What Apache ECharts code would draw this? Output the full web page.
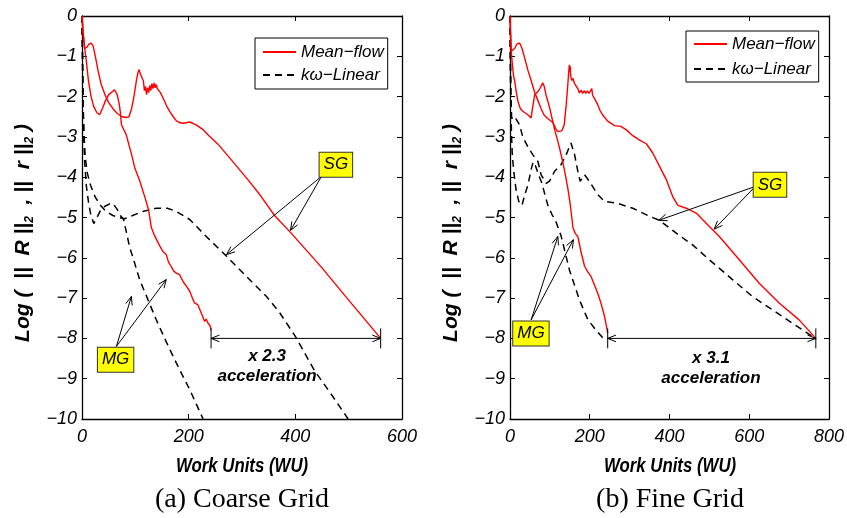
<!DOCTYPE html>
<html>
<head>
<meta charset="utf-8">
<script src="https://cdn.jsdelivr.net/npm/echarts@6/dist/echarts.min.js"></script>
<style>
  html, body { margin: 0; padding: 0; background: #fff; }
  #chart { width: 847px; height: 518px; }
</style>
</head>
<body>
<div id="chart"></div>
<script>
// ---- Coarse grid: residual histories, [work units, log10 residual] ----
const coarseMgMeanFlow = [[0,0],[2,-0.4],[5,-0.8],[8,-1.1],[12,-1.6],[17,-2.0],[22,-2.25],[28,-2.4],[33,-2.45],[38,-2.3],[44,-2.1],[50,-1.95],[55,-1.9],[61,-1.83],[66,-1.95],[70,-2.2],[72,-2.4],[74,-2.7],[83,-2.95],[93,-3.44],[99,-3.77],[108,-4.08],[118,-4.5],[125,-4.82],[130,-5.25],[136,-5.45],[146,-5.71],[152,-5.85],[158,-5.92],[162,-6.1],[167,-6.21],[172,-6.33],[177,-6.38],[183,-6.42],[190,-6.6],[196,-6.71],[202,-6.83],[207,-7.0],[211,-7.12],[217,-7.16],[223,-7.35],[230,-7.58],[233,-7.52],[236,-7.62],[240,-7.68],[242,-7.8]];
const coarseSgMeanFlow = [[0,0],[2,-0.4],[5,-0.8],[9,-0.78],[13,-0.7],[17,-0.67],[21,-0.75],[25,-1.0],[30,-1.35],[36,-1.7],[43,-1.95],[50,-2.15],[58,-2.3],[66,-2.42],[75,-2.5],[83,-2.52],[88,-2.5],[93,-2.3],[98,-1.95],[102,-1.6],[105,-1.4],[107,-1.33],[109,-1.42],[111,-1.46],[113,-1.55],[115,-1.6],[117,-1.85],[119,-1.75],[121,-1.95],[123,-1.78],[125,-1.9],[127,-1.72],[129,-1.85],[131,-1.68],[133,-1.8],[135,-1.66],[137,-1.78],[139,-1.7],[141,-1.8],[144,-1.78],[147,-1.9],[150,-1.98],[155,-2.12],[160,-2.27],[165,-2.38],[171,-2.5],[177,-2.6],[184,-2.65],[190,-2.66],[202,-2.63],[214,-2.7],[227,-2.82],[238,-2.97],[255,-3.18],[280,-3.57],[311,-4.06],[336,-4.48],[361,-4.95],[393,-5.4],[450,-6.25],[500,-7.05],[560,-8.0]];
const coarseMgLinear = [[0,0],[1,-1],[2,-2],[3,-2.9],[5,-3.6],[8,-4.2],[12,-4.6],[16,-4.9],[22,-5.15],[28,-5.0],[35,-4.82],[43,-4.72],[52,-4.66],[58,-4.65],[66,-4.8],[72,-4.95],[78,-5.05],[83,-5.35],[89,-5.72],[98,-6.1],[108,-6.54],[124,-7.05],[139,-7.53],[155,-8.0],[171,-8.45],[187,-8.88],[202,-9.27],[215,-9.65],[227,-10.0]];
const coarseSgLinear = [[0,0],[1,-1.2],[2,-2.2],[4,-3.0],[6,-3.5],[10,-3.9],[16,-4.2],[25,-4.5],[35,-4.7],[45,-4.85],[58,-4.95],[70,-5.0],[80,-5.03],[95,-4.95],[114,-4.85],[139,-4.77],[160,-4.77],[177,-4.85],[202,-5.05],[233,-5.47],[271,-5.96],[308,-6.46],[346,-6.96],[371,-7.37],[400,-7.95],[436,-8.8],[468,-9.4],[496,-9.94],[499,-10.0]];

// ---- Fine grid ----
const fineMgMeanFlow = [[0,0],[1.5,-0.5],[3,-0.88],[6,-1.2],[9,-1.5],[12,-1.62],[16,-1.9],[20,-2.12],[26,-2.3],[33,-2.37],[40,-2.42],[47,-2.47],[53,-2.53],[57,-2.25],[62,-1.95],[68,-1.9],[75,-1.8],[82,-1.66],[86,-1.75],[90,-1.95],[95,-2.12],[100,-2.3],[107,-2.61],[114,-2.9],[120,-3.11],[126,-3.35],[132,-3.61],[138,-3.9],[145,-4.27],[150,-4.6],[155,-5.0],[158,-5.26],[164,-5.4],[170,-5.47],[178,-5.85],[187,-6.21],[195,-6.35],[203,-6.46],[212,-6.68],[220,-6.88],[228,-7.12],[237,-7.45],[242,-7.7],[245,-7.87]];
const fineSgMeanFlow = [[0,0],[1.5,-0.5],[3,-0.88],[7.5,-0.92],[12,-0.8],[17,-0.7],[24,-0.67],[30,-0.8],[37,-1.05],[45,-1.35],[53,-1.6],[62,-1.9],[70,-2.1],[78,-2.3],[85,-2.45],[95,-2.55],[102,-2.6],[108,-2.65],[115,-2.8],[120,-2.87],[124,-2.9],[130,-2.85],[136,-2.7],[141,-2.2],[145,-1.7],[148,-1.3],[149,-1.21],[150,-1.38],[151,-1.25],[152,-1.48],[155,-1.6],[158,-1.55],[162,-1.68],[165,-1.64],[170,-1.8],[174,-1.91],[178,-1.84],[182,-1.92],[186,-1.85],[190,-1.92],[194,-1.86],[198,-1.92],[203,-1.9],[205,-1.8],[207,-1.96],[212,-2.05],[220,-2.2],[226,-2.35],[232,-2.45],[245,-2.61],[262,-2.72],[278,-2.74],[291,-2.82],[308,-2.97],[325,-3.08],[342,-3.17],[358,-3.4],[375,-3.73],[392,-4.06],[408,-4.48],[421,-4.7],[442,-4.77],[467,-4.89],[492,-5.14],[525,-5.47],[575,-6.05],[625,-6.63],[675,-7.12],[725,-7.54],[767,-8.0]];
const fineMgLinear = [[0,0],[1,-1.2],[2,-2.2],[4,-3.0],[6,-3.5],[10,-3.9],[15,-4.3],[22,-4.6],[30,-4.7],[38,-4.4],[45,-4.2],[52,-3.85],[58,-3.62],[64,-3.72],[72,-3.95],[80,-4.15],[88,-4.45],[95,-4.7],[105,-4.92],[115,-5.1],[128,-5.45],[149,-6.3],[174,-7.04],[195,-7.53],[216,-7.8],[232,-7.98],[238,-8.02]];
const fineSgLinear = [[0,0],[1,-1.0],[2,-1.9],[4,-2.5],[8,-2.6],[15,-2.55],[24,-2.7],[32,-3.0],[45,-3.25],[57,-3.44],[70,-3.61],[78,-3.94],[91,-4.15],[99,-4.1],[112,-3.85],[128,-3.69],[141,-3.44],[153,-3.15],[162,-3.44],[170,-3.85],[176,-4.1],[187,-3.94],[199,-4.1],[220,-4.43],[237,-4.6],[270,-4.65],[308,-4.77],[350,-4.97],[375,-5.07],[417,-5.39],[458,-5.68],[500,-6.05],[558,-6.54],[608,-6.96],[658,-7.29],[708,-7.62],[758,-7.95],[768,-8.02]];

// ---- Axis ticks ----
const coarseXTicks = [0, 200, 400, 600];
const fineXTicks = [0, 200, 400, 600, 800];
const yTicks = [0, -1, -2, -3, -4, -5, -6, -7, -8, -9, -10];

// ---- Text ----
const legendNames = ['Mean\u2212flow', 'k\u03c9\u2212Linear'];
const xTitle = 'Work Units (WU)';
const captions = ['(a) Coarse Grid', '(b) Fine Grid'];

// ---- Annotations (data coordinates) ----
// tag boxes: [x, y, text]
const coarseTags = [[476, -3.69, 'SG'], [63, -8.53, 'MG']];
const fineTags = [[652, -4.19, 'SG'], [52.5, -7.88, 'MG']];
// pointer arrows: [fromX, fromY, toX, toY]
const coarseArrows = [[449, -3.98, 271, -5.92], [449, -3.98, 391, -5.32], [64.5, -8.2, 92.6, -6.96], [64.5, -8.2, 158, -6.54]];
const fineArrows = [[615, -4.23, 373, -5.07], [615, -4.23, 512, -5.29], [53, -7.54, 120, -5.47], [53, -7.54, 159, -5.55]];
// speed-up spans: [MG end, SG end, level, label x, label y]
const coarseSpan = [242, 560, -8.0, 347, -8.45];
const fineSpan = [245, 767, -8.0, 504, -8.49];

const SANS = "'Liberation Sans', Arial, sans-serif";
const SERIF = "'Liberation Serif', 'Times New Roman', serif";
const minus = v => String(v).replace('-', '\u2212');

function xAxes(gridIndex, ticks) {
  const base = {
    gridIndex, type: 'value', min: ticks[0], max: ticks[ticks.length - 1],
    interval: ticks[1] - ticks[0],
    axisLine: { onZero: false, lineStyle: { color: '#000', width: 1.3 } },
    axisTick: { inside: true, length: 5, lineStyle: { color: '#000', width: 1 } },
    splitLine: { show: false }
  };
  return [
    Object.assign({}, base, {
      position: 'bottom',
      axisLabel: { margin: 9, color: '#000', fontFamily: SANS, fontStyle: 'italic', fontSize: 18, formatter: minus }
    }),
    Object.assign({}, base, { position: 'top', axisLabel: { show: false } })
  ];
}
function yAxes(gridIndex) {
  const base = {
    gridIndex, type: 'value', min: yTicks[yTicks.length - 1], max: yTicks[0], interval: 1,
    axisLine: { onZero: false, lineStyle: { color: '#000', width: 1.3 } },
    axisTick: { inside: true, length: 5, lineStyle: { color: '#000', width: 1 } },
    splitLine: { show: false }
  };
  return [
    Object.assign({}, base, {
      position: 'left',
      axisLabel: { margin: 5, color: '#000', fontFamily: SANS, fontStyle: 'italic', fontSize: 18, formatter: minus }
    }),
    Object.assign({}, base, { position: 'right', axisLabel: { show: false } })
  ];
}

function lineSeries(name, data, axis, dashed) {
  const color = dashed ? '#000' : '#ff0000';
  return {
    type: 'line', name, data, xAxisIndex: axis, yAxisIndex: axis,
    symbol: 'none', showSymbol: false, animation: false, z: 3,
    itemStyle: { color },
    lineStyle: dashed ? { color, width: 1.5, type: [7, 5] } : { color, width: 1.4 }
  };
}

function openHead(tip, from, len) {
  const dx = tip[0] - from[0], dy = tip[1] - from[1];
  const d = Math.hypot(dx, dy) || 1;
  const ux = dx / d, uy = dy / d, a = 0.38;
  const c = Math.cos(a), s = Math.sin(a);
  const p1 = [tip[0] - len * (ux * c - uy * s), tip[1] - len * (uy * c + ux * s)];
  const p2 = [tip[0] - len * (ux * c + uy * s), tip[1] - len * (uy * c - ux * s)];
  return { type: 'polyline', shape: { points: [p1, tip, p2] }, style: { stroke: '#000', lineWidth: 1, fill: null } };
}

function arrowSeries(data, axis) {
  return {
    type: 'custom', xAxisIndex: axis, yAxisIndex: axis, data, animation: false, z: 5, silent: true,
    renderItem(params, api) {
      const a = api.coord([api.value(0), api.value(1)]);
      const b = api.coord([api.value(2), api.value(3)]);
      return { type: 'group', children: [
        { type: 'line', shape: { x1: a[0], y1: a[1], x2: b[0], y2: b[1] }, style: { stroke: '#000', lineWidth: 1 } },
        openHead(b, a, 9)
      ] };
    }
  };
}

function tagSeries(data, axis) {
  return {
    type: 'custom', xAxisIndex: axis, yAxisIndex: axis, data, animation: false, z: 6, silent: true,
    renderItem(params, api) {
      const p = api.coord([api.value(0), api.value(1)]);
      return { type: 'text', x: p[0], y: p[1], style: {
        text: data[params.dataIndex][2], fill: '#000', font: 'italic 17px ' + SANS,
        align: 'center', verticalAlign: 'middle', backgroundColor: '#ffff00',
        borderColor: '#333', borderWidth: 1, padding: [3, 4, 3, 4], lineHeight: 18
      } };
    }
  };
}

function spanSeries(span, axis) {
  return {
    type: 'custom', xAxisIndex: axis, yAxisIndex: axis, data: [span], animation: false, z: 5, silent: true,
    renderItem(params, api) {
      const a = api.coord([api.value(0), api.value(2)]);
      const b = api.coord([api.value(1), api.value(2)]);
      const t = api.coord([api.value(3), api.value(4)]);
      const factor = (span[1] / span[0]).toFixed(1);
      const font = 'italic bold 17px ' + SANS;
      return { type: 'group', children: [
        { type: 'line', shape: { x1: a[0], y1: a[1], x2: b[0], y2: b[1] }, style: { stroke: '#000', lineWidth: 1 } },
        { type: 'line', shape: { x1: a[0], y1: a[1] - 10, x2: a[0], y2: a[1] + 10 }, style: { stroke: '#000', lineWidth: 1 } },
        { type: 'line', shape: { x1: b[0], y1: b[1] - 10, x2: b[0], y2: b[1] + 10 }, style: { stroke: '#000', lineWidth: 1 } },
        openHead(a, b, 9), openHead(b, a, 9),
        { type: 'text', x: t[0], y: t[1], style: { text: 'x ' + factor, font, fill: '#000', align: 'center', verticalAlign: 'middle' } },
        { type: 'text', x: t[0], y: t[1] + 20, style: { text: 'acceleration', font, fill: '#000', align: 'center', verticalAlign: 'middle' } }
      ] };
    }
  };
}

function legendFor(left, top, pad, gap) {
  return {
    data: legendNames, orient: 'vertical', left, top, itemWidth: 33, itemHeight: 14, itemGap: gap,
    padding: [pad, 4, pad, 7], borderColor: '#000', borderWidth: 1, backgroundColor: '#fff',
    selectedMode: false,
    itemStyle: { opacity: 0 },
    textStyle: { fontFamily: SANS, fontStyle: 'italic', fontSize: 17, lineHeight: 18, color: '#000' }
  };
}

const yTitle = {
  text: '{b|Log (  ||  R ||}{s|2}{b|  , ||  r ||}{s|2}{b| )}',
  rich: {
    b: { fontFamily: SANS, fontStyle: 'italic', fontWeight: 'bold', fontSize: 21, lineHeight: 26, verticalAlign: 'middle', fill: '#000' },
    s: { fontFamily: SANS, fontStyle: 'italic', fontWeight: 'bold', fontSize: 12, lineHeight: 12, verticalAlign: 'bottom', fill: '#000' }
  },
  align: 'center', verticalAlign: 'middle'
};

// condensed bold-italic axis title under each panel
function xTitleText(cx) {
  return { type: 'text', x: cx, y: 466, scaleX: 0.84, style: {
    text: xTitle, font: 'italic bold 20px ' + SANS, fill: '#000', align: 'center', verticalAlign: 'middle'
  } };
}

const chart = echarts.init(document.getElementById('chart'), null, { renderer: 'canvas' });
chart.setOption({
  animation: false,
  backgroundColor: '#fff',
  grid: [
    { left: 82, top: 16, width: 320, height: 403 },
    { left: 510, top: 16, width: 320, height: 403 }
  ],
  xAxis: [].concat(xAxes(0, coarseXTicks), xAxes(1, fineXTicks)),
  yAxis: [].concat(yAxes(0), yAxes(1)),
  legend: [legendFor(255, 38, 5, 5), legendFor(686, 31, 4, 7)],
  graphic: [
    { type: 'text', x: 23, y: 233, rotation: Math.PI / 2, style: Object.assign({}, yTitle) },
    { type: 'text', x: 451, y: 233, rotation: Math.PI / 2, style: Object.assign({}, yTitle) },
    xTitleText(242), xTitleText(670),
    { type: 'text', x: 242, y: 500, style: { text: captions[0], font: '28px ' + SERIF, fill: '#000', align: 'center', verticalAlign: 'middle' } },
    { type: 'text', x: 670, y: 500, style: { text: captions[1], font: '28px ' + SERIF, fill: '#000', align: 'center', verticalAlign: 'middle' } }
  ],
  series: [
    lineSeries(legendNames[1], coarseMgLinear, 0, true),
    lineSeries(legendNames[1], coarseSgLinear, 0, true),
    lineSeries(legendNames[0], coarseMgMeanFlow, 0, false),
    lineSeries(legendNames[0], coarseSgMeanFlow, 0, false),
    lineSeries(legendNames[1], fineMgLinear, 2, true),
    lineSeries(legendNames[1], fineSgLinear, 2, true),
    lineSeries(legendNames[0], fineMgMeanFlow, 2, false),
    lineSeries(legendNames[0], fineSgMeanFlow, 2, false),
    arrowSeries(coarseArrows, 0), tagSeries(coarseTags, 0), spanSeries(coarseSpan, 0),
    arrowSeries(fineArrows, 2), tagSeries(fineTags, 2), spanSeries(fineSpan, 2)
  ]
});
</script>
</body>
</html>
